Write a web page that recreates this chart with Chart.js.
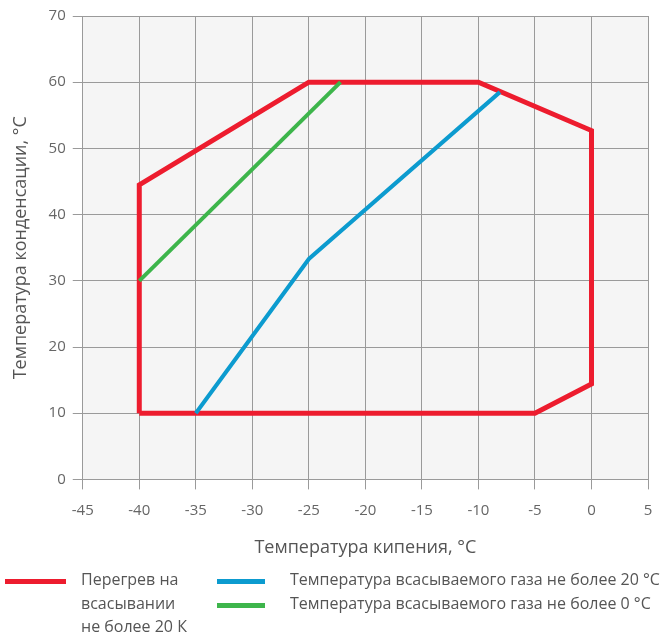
<!DOCTYPE html>
<html>
<head>
<meta charset="utf-8">
<script src="https://cdn.jsdelivr.net/npm/chart.js@4/dist/chart.umd.min.js"></script>
<style>
  body { margin: 0; background: #fff; font-family: "Open Sans", sans-serif; }
  #wrap { position: relative; width: 668px; height: 637px; }
  .leg { position: absolute; color: #555; font-size: 16px; line-height: 23.5px; }
  .sw { position: absolute; height: 5px; }
</style>
</head>
<body>
<div id="wrap">
  <canvas id="chart" width="668" height="637"></canvas>
  <div class="sw" style="left:5px;top:579px;width:61px;background:#ed1c2e"></div>
  <div class="leg" style="left:81px;top:568px">Перегрев на<br>всасывании<br>не более 20 К</div>
  <div class="sw" style="left:217px;top:579px;width:48px;background:#0c9bcf"></div>
  <div class="leg" style="left:290px;top:568px">Температура всасываемого газа не более 20 °C</div>
  <div class="sw" style="left:217px;top:603px;width:48px;background:#3db54b"></div>
  <div class="leg" style="left:290px;top:592px">Температура всасываемого газа не более 0 °C</div>
</div>
<script>
// envelope: superheat not more than 20 K
const redX = [-40, -40, -25, -10, 0, 0, -5, -40];
const redY = [10, 44.5, 60, 60, 52.7, 14.4, 10, 10];
// suction gas temperature not more than 20 °C
const blueX = [-35, -25, -8.1];
const blueY = [10, 33.3, 58.5];
// suction gas temperature not more than 0 °C
const greenX = [-40, -22.2];
const greenY = [30, 60];

const xTitle = 'Температура кипения, °C';
const yTitle = 'Температура конденсации, °C';

function pts(xs, ys) {
  return xs.map((x, i) => ({ x, y: ys[i] }));
}

const plotBg = {
  id: 'plotBg',
  beforeDraw(chart) {
    const a = chart.chartArea, ctx = chart.ctx;
    ctx.save();
    ctx.fillStyle = '#f5f5f5';
    ctx.fillRect(a.left, a.top, a.right - a.left, a.bottom - a.top);
    ctx.restore();
  }
};

const line = (data, color, w) => ({
  data, borderColor: color, backgroundColor: color, borderWidth: w,
  showLine: true, pointRadius: 0, tension: 0, borderJoinStyle: 'miter'
});

new Chart(document.getElementById('chart'), {
  type: 'scatter',
  data: {
    datasets: [
      line(pts(blueX, blueY), '#0c9bcf', 4),
      line(pts(greenX, greenY), '#3db54b', 4),
      line(pts(redX, redY), '#ed1c2e', 5)
    ]
  },
  options: {
    responsive: false,
    animation: false,
    layout: { padding: { left: 6, right: 20, top: 6, bottom: 74 } },
    plugins: { legend: { display: false }, tooltip: { enabled: false } },
    scales: {
      x: {
        type: 'linear', min: -45, max: 5,
        ticks: { stepSize: 5, color: '#666', font: { family: 'Open Sans', size: 15 }, padding: 12 },
        grid: { color: '#9a9a9a', tickLength: 10, lineWidth: 1 },
        border: { color: '#9a9a9a' },
        title: { display: true, text: xTitle, color: '#555', font: { family: 'Open Sans', size: 18 }, padding: { top: 6 } }
      },
      y: {
        min: 0, max: 70,
        ticks: { stepSize: 10, color: '#666', font: { family: 'Open Sans', size: 15 }, padding: 7 },
        grid: { color: '#9a9a9a', tickLength: 10, lineWidth: 1 },
        border: { color: '#9a9a9a' },
        title: { display: true, text: yTitle, color: '#555', font: { family: 'Open Sans', size: 18 }, padding: { bottom: 10 } }
      }
    }
  },
  plugins: [plotBg]
});
</script>
</body>
</html>
